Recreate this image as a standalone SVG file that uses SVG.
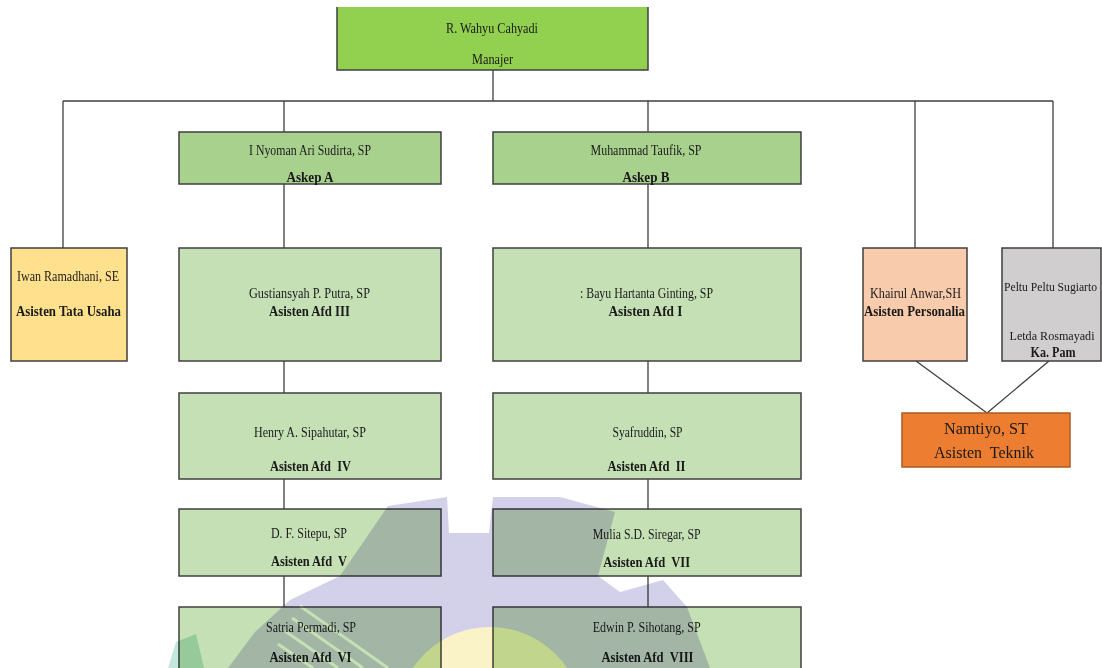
<svg xmlns="http://www.w3.org/2000/svg" width="1102" height="668" viewBox="0 0 1102 668">
<style>
  .bx{stroke:#3f3f3f;stroke-width:1.5}
  .mgr{fill:#92d050}
  .ask{fill:#a9d18e}
  .afd{fill:#c5e0b4}
  .tu{fill:#ffe08c}
  .per{fill:#f8cbad}
  .pam{fill:#d0cece}
  .tek{fill:#ed7d31;stroke:#ae5a21;stroke-width:1.5}
  .cn{stroke:#3f3f3f;stroke-width:1.3;fill:none}
  text{font-family:"Liberation Serif","Times New Roman",serif;font-size:13.6px;fill:#1a1a1a;text-anchor:middle;white-space:pre}
  .b{font-weight:bold}
  .big{font-size:16.5px}
  .sm{font-size:12px}
</style>

<g id="connectors">
  <path class="cn" d="M493,70V101M63,101H1053M63,101V248M284,101V132M648,101V132M915,101V248M1053,101V248"/>
  <path class="cn" d="M284,184V248M648,184V248M284,361V393M648,361V393M284,479V509M648,479V509M284,576V607M648,576V607"/>
  <path class="cn" d="M916,361L987,413M1049,361L987,413"/>
</g>

<g id="manajer">
  <rect class="mgr" x="337" y="7" width="311" height="63"/>
  <path d="M337,7V70H648V7" fill="none" stroke="#3f3f3f" stroke-width="1.5"/>
  <text x="492" y="32.5" textLength="92" lengthAdjust="spacingAndGlyphs">R. Wahyu Cahyadi</text>
  <text x="492.5" y="63.5" textLength="41" lengthAdjust="spacingAndGlyphs">Manajer</text>
</g>

<g id="askep-a">
  <rect class="bx ask" x="179" y="132" width="262" height="52"/>
  <text x="310" y="155" textLength="122" lengthAdjust="spacingAndGlyphs">I Nyoman Ari Sudirta, SP</text>
  <text class="b" x="310" y="181.5" textLength="47" lengthAdjust="spacingAndGlyphs">Askep A</text>
</g>

<g id="askep-b">
  <rect class="bx ask" x="493" y="132" width="308" height="52"/>
  <text x="646" y="155" textLength="111" lengthAdjust="spacingAndGlyphs">Muhammad Taufik, SP</text>
  <text class="b" x="646" y="181.5" textLength="47" lengthAdjust="spacingAndGlyphs">Askep B</text>
</g>

<g id="tata-usaha">
  <rect class="bx tu" x="11" y="248" width="116" height="113"/>
  <text x="68" y="280.5" textLength="102" lengthAdjust="spacingAndGlyphs">Iwan Ramadhani, SE</text>
  <text class="b" x="68.5" y="316" textLength="105" lengthAdjust="spacingAndGlyphs">Asisten Tata Usaha</text>
</g>

<g id="afd-3">
  <rect class="bx afd" x="179" y="248" width="262" height="113"/>
  <text x="309.5" y="297.8" textLength="121" lengthAdjust="spacingAndGlyphs">Gustiansyah P. Putra, SP</text>
  <text class="b" x="309.5" y="316" textLength="81" lengthAdjust="spacingAndGlyphs">Asisten Afd III</text>
</g>

<g id="afd-1">
  <rect class="bx afd" x="493" y="248" width="308" height="113"/>
  <text x="646.5" y="297.8" textLength="133" lengthAdjust="spacingAndGlyphs">: Bayu Hartanta Ginting, SP</text>
  <text class="b" x="645.5" y="316" textLength="74" lengthAdjust="spacingAndGlyphs">Asisten Afd I</text>
</g>

<g id="afd-4">
  <rect class="bx afd" x="179" y="393" width="262" height="86"/>
  <text x="310" y="437" textLength="112" lengthAdjust="spacingAndGlyphs">Henry A. Sipahutar, SP</text>
  <text class="b" x="310.5" y="471" textLength="81" lengthAdjust="spacingAndGlyphs">Asisten Afd  IV</text>
</g>

<g id="afd-2">
  <rect class="bx afd" x="493" y="393" width="308" height="86"/>
  <text x="647.5" y="437" textLength="70" lengthAdjust="spacingAndGlyphs">Syafruddin, SP</text>
  <text class="b" x="646.5" y="471" textLength="78" lengthAdjust="spacingAndGlyphs">Asisten Afd  II</text>
</g>

<g id="afd-5">
  <rect class="bx afd" x="179" y="509" width="262" height="67"/>
  <text x="309" y="538" textLength="76" lengthAdjust="spacingAndGlyphs">D. F. Sitepu, SP</text>
  <text class="b" x="309" y="566" textLength="76" lengthAdjust="spacingAndGlyphs">Asisten Afd  V</text>
</g>

<g id="afd-7">
  <rect class="bx afd" x="493" y="509" width="308" height="67"/>
  <text x="646.7" y="538.5" textLength="108" lengthAdjust="spacingAndGlyphs">Mulia S.D. Siregar, SP</text>
  <text class="b" x="646.7" y="566.5" textLength="87" lengthAdjust="spacingAndGlyphs">Asisten Afd  VII</text>
</g>

<g id="afd-6">
  <rect class="bx afd" x="179" y="607" width="262" height="70"/>
  <text x="311" y="631.5" textLength="90" lengthAdjust="spacingAndGlyphs">Satria Permadi, SP</text>
  <text class="b" x="310.5" y="661.5" textLength="82" lengthAdjust="spacingAndGlyphs">Asisten Afd  VI</text>
</g>

<g id="afd-8">
  <rect class="bx afd" x="493" y="607" width="308" height="70"/>
  <text x="646.7" y="631.5" textLength="108" lengthAdjust="spacingAndGlyphs">Edwin P. Sihotang, SP</text>
  <text class="b" x="647.5" y="661.5" textLength="92" lengthAdjust="spacingAndGlyphs">Asisten Afd  VIII</text>
</g>

<g id="personalia">
  <rect class="bx per" x="863" y="248" width="104" height="113"/>
  <text x="915.5" y="297.5" textLength="91" lengthAdjust="spacingAndGlyphs">Khairul Anwar,SH</text>
  <text class="b" x="914.5" y="316" textLength="101" lengthAdjust="spacingAndGlyphs">Asisten Personalia</text>
</g>

<g id="ka-pam">
  <rect class="bx pam" x="1002" y="248" width="99" height="113"/>
  <text class="sm" x="1050.5" y="290.5" textLength="93" lengthAdjust="spacingAndGlyphs">Peltu Peltu Sugiarto</text>
  <text class="sm" x="1052" y="340" textLength="85" lengthAdjust="spacingAndGlyphs">Letda Rosmayadi</text>
  <text class="b" x="1053" y="357" textLength="45" lengthAdjust="spacingAndGlyphs">Ka. Pam</text>
</g>

<g id="teknik">
  <rect class="tek" x="902" y="413" width="168" height="54"/>
  <text class="big" x="986" y="433.5" textLength="84" lengthAdjust="spacingAndGlyphs">Namtiyo, ST</text>
  <text class="big" x="984" y="457.5" textLength="100" lengthAdjust="spacingAndGlyphs">Asisten  Teknik</text>
</g>

<g id="watermark" style="mix-blend-mode:multiply">
  <path fill="#d3d0ea" d="M228,668 L255,632 L290,600 L340,576 L388,506 L447,497 L449,533 L489,533 L493,497 L560,497 L615,512 L598,576 L620,592 L663,580 L687,607 L710,668 Z"/>
  <circle cx="490" cy="720" r="93" fill="#fbf3c8"/>
  <g stroke="#ffffff" stroke-width="3">
    <line x1="300" y1="606" x2="388" y2="668"/>
    <line x1="292" y1="618" x2="363" y2="668"/>
    <line x1="285" y1="631" x2="338" y2="668"/>
    <line x1="278" y1="644" x2="313" y2="668"/>
  </g>
  <path fill="#c4e6dc" d="M168,668 L176,642 L196,634 L204,668 Z"/>
</g>
</svg>
